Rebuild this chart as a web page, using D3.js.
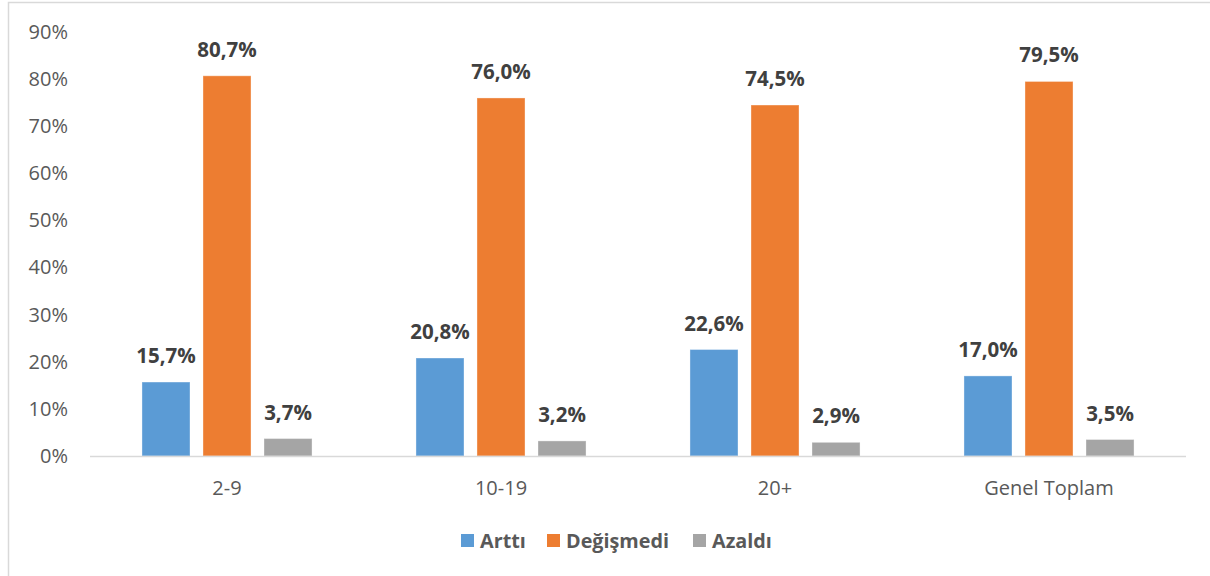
<!DOCTYPE html>
<html>
<head>
<meta charset="utf-8">
<script src="https://cdn.jsdelivr.net/npm/d3@7"></script>
<style>
  body { margin: 0; background: #fff; }
  svg { display: block; font-family: "Open Sans", sans-serif; }
</style>
</head>
<body>
<svg id="chart"></svg>
<script>
// chart data
const categories = ["2-9", "10-19", "20+", "Genel Toplam"];
const seriesNames = ["Arttı", "Değişmedi", "Azaldı"];
const arttiValues = [15.7, 20.8, 22.6, 17.0];
const degismediValues = [80.7, 76.0, 74.5, 79.5];
const azaldiValues = [3.7, 3.2, 2.9, 3.5];
const yTicks = [0, 10, 20, 30, 40, 50, 60, 70, 80, 90];
const colors = ["#5B9BD5", "#ED7D31", "#A5A5A5"];

const seriesValues = [arttiValues, degismediValues, azaldiValues];

const width = 1210, height = 576;
const svg = d3.select("#chart").attr("width", width).attr("height", height);

// outer chart border (Excel-like frame)
svg.append("rect")
  .attr("x", 8.5).attr("y", 2.5)
  .attr("width", 1230).attr("height", 600)
  .attr("fill", "none")
  .attr("stroke", "#d9d9d9")
  .attr("stroke-width", 1.5);

const plot = { left: 90, right: 1186, top: 32, bottom: 456 };

const y = d3.scaleLinear()
  .domain([0, 90])
  .range([plot.bottom, plot.top]);

const x0 = d3.scaleBand()
  .domain(categories)
  .range([plot.left, plot.right])
  .padding(0);

const x1 = d3.scaleBand()
  .domain(seriesNames)
  .range([0, x0.bandwidth()])
  .paddingInner(0.213)
  .paddingOuter(0.852);

// y axis labels
const yAxis = svg.append("g")
  .attr("transform", `translate(${plot.left - 22},0)`)
  .call(d3.axisLeft(y).tickValues(yTicks).tickFormat(d => d + "%").tickSize(0).tickPadding(0));
yAxis.select(".domain").remove();
yAxis.selectAll("text")
  .attr("fill", "#595959")
  .style("font-size", "20px")
  .style("font-family", "'Open Sans', sans-serif");

// bars
const groups = svg.append("g").selectAll("g")
  .data(categories)
  .join("g")
  .attr("transform", d => `translate(${x0(d)},0)`);

groups.selectAll("rect")
  .data((c, i) => seriesNames.map((s, j) => ({ s, j, v: seriesValues[j][i] })))
  .join("rect")
  .attr("x", d => x1(d.s))
  .attr("y", d => y(d.v))
  .attr("width", x1.bandwidth())
  .attr("height", d => y(0) - y(d.v))
  .attr("fill", d => colors[d.j])
  .attr("stroke", "rgba(255,255,255,0.35)")
  .attr("stroke-width", 1);

// value labels
groups.selectAll("text.val")
  .data((c, i) => seriesNames.map((s, j) => ({ s, j, v: seriesValues[j][i] })))
  .join("text")
  .attr("class", "val")
  .attr("x", d => x1(d.s) + x1.bandwidth() / 2)
  .attr("y", d => y(d.v) - 19)
  .attr("text-anchor", "middle")
  .attr("fill", "#404040")
  .style("font-size", "20.5px")
  .style("font-weight", "bold")
  .text(d => d.v.toFixed(1).replace(".", ",") + "%");

// x axis baseline
svg.append("line")
  .attr("x1", plot.left).attr("x2", plot.right)
  .attr("y1", y(0) + 0.5).attr("y2", y(0) + 0.5)
  .attr("stroke", "#d9d9d9")
  .attr("stroke-width", 1.5);

// x axis labels
const xAxis = svg.append("g")
  .attr("transform", `translate(0,${plot.bottom + 39})`)
  .call(d3.axisBottom(x0).tickSize(0).tickPadding(0));
xAxis.select(".domain").remove();
xAxis.selectAll("text")
  .attr("fill", "#595959")
  .attr("dy", 0)
  .style("font-size", "20px")
  .style("font-family", "'Open Sans', sans-serif");

// legend
const legendX = [461, 547, 693];
const legend = svg.append("g").selectAll("g")
  .data(seriesNames)
  .join("g")
  .attr("transform", (d, i) => `translate(${legendX[i]},534)`);
legend.append("rect")
  .attr("width", 13).attr("height", 13)
  .attr("fill", (d, i) => colors[i]);
legend.append("text")
  .attr("x", 19).attr("y", 14)
  .attr("fill", "#595959")
  .style("font-size", "19.8px")
  .style("font-weight", "bold")
  .text(d => d);
</script>
</body>
</html>
